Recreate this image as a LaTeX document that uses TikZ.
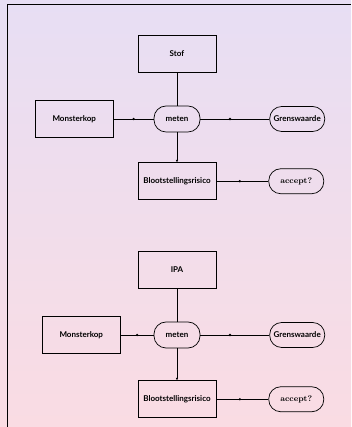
\documentclass[tikz,border=0pt]{standalone}
\usepackage{fontspec}
\newfontfamily\labelfont{Lato}
\usepackage{xcolor}
\usepackage{tikz}
\usetikzlibrary{positioning,arrows.meta}

\definecolor{bgtop}{RGB}{231,222,244}
\definecolor{bgbottom}{RGB}{250,220,227}

\begin{document}
\begin{tikzpicture}[x=1pt, y=1pt,
    box/.style = {draw, line width=0.8pt, inner xsep=2pt,
      minimum width=78pt, minimum height=37pt,
      font=\labelfont\bfseries\fontsize{8}{9}\selectfont},
    pill/.style = {draw, line width=0.7pt, rounded corners=12pt, inner sep=0pt,
      minimum width=55pt, minimum height=25pt,
      font=\labelfont\bfseries\fontsize{8}{9}\selectfont},
    link/.style = {line width=0.8pt},
    dotmark/.style = {circle, fill, inner sep=0pt, minimum size=2.6pt}]

  % background and frame
  \shade[top color=bgtop, bottom color=bgbottom] (0,0) rectangle (351,427);
  \useasboundingbox (0,0) rectangle (351,427);
  \draw[line width=1pt] (7,0) |- (351,422);

  % Stof
  \node[pill, minimum width=46pt, minimum height=26pt] (m1) at (177,308) {meten};
  \node[box, above=33pt of m1] (s1) {Stof};
  \node[box, left=40pt of m1] (k1) {Monsterkop};
  \node[pill, right=69pt of m1] (g1) {Grenswaarde};
  \node[box, below=30pt of m1] (b1) {Blootstellingsrisico};
  \node[pill, right=52pt of b1, font=\bfseries\fontsize{8}{10}\selectfont] (a1) {accept?};

  \draw[link] (s1) -- (m1);
  \draw[link] (k1) -- node[dotmark] {} (m1);
  \draw[link] (m1) -- node[dotmark, pos=0.43] {} (g1);
  \draw[link, -{Latex[length=2.4pt, width=2.4pt]}] (m1) -- (b1);
  \draw[link] (b1) -- node[dotmark, pos=0.45] {} (a1);

  % IPA
  \node[pill, minimum width=46pt, minimum height=26pt] (m2) at (177,92) {meten};
  \node[box, above=33pt of m2] (s2) {IPA};
  \node[box, left=33pt of m2] (k2) {Monsterkop};
  \node[pill, right=69pt of m2] (g2) {Grenswaarde};
  \node[box, below=32pt of m2] (b2) {Blootstellingsrisico};
  \node[pill, right=52pt of b2, font=\bfseries\fontsize{8}{10}\selectfont] (a2) {accept?};

  \draw[link] (s2) -- (m2);
  \draw[link] (k2) -- node[dotmark] {} (m2);
  \draw[link] (m2) -- node[dotmark, pos=0.43] {} (g2);
  \draw[link, -{Latex[length=2.4pt, width=2.4pt]}] (m2) -- (b2);
  \draw[link] (b2) -- node[dotmark, pos=0.45] {} (a2);
\end{tikzpicture}
\end{document}
